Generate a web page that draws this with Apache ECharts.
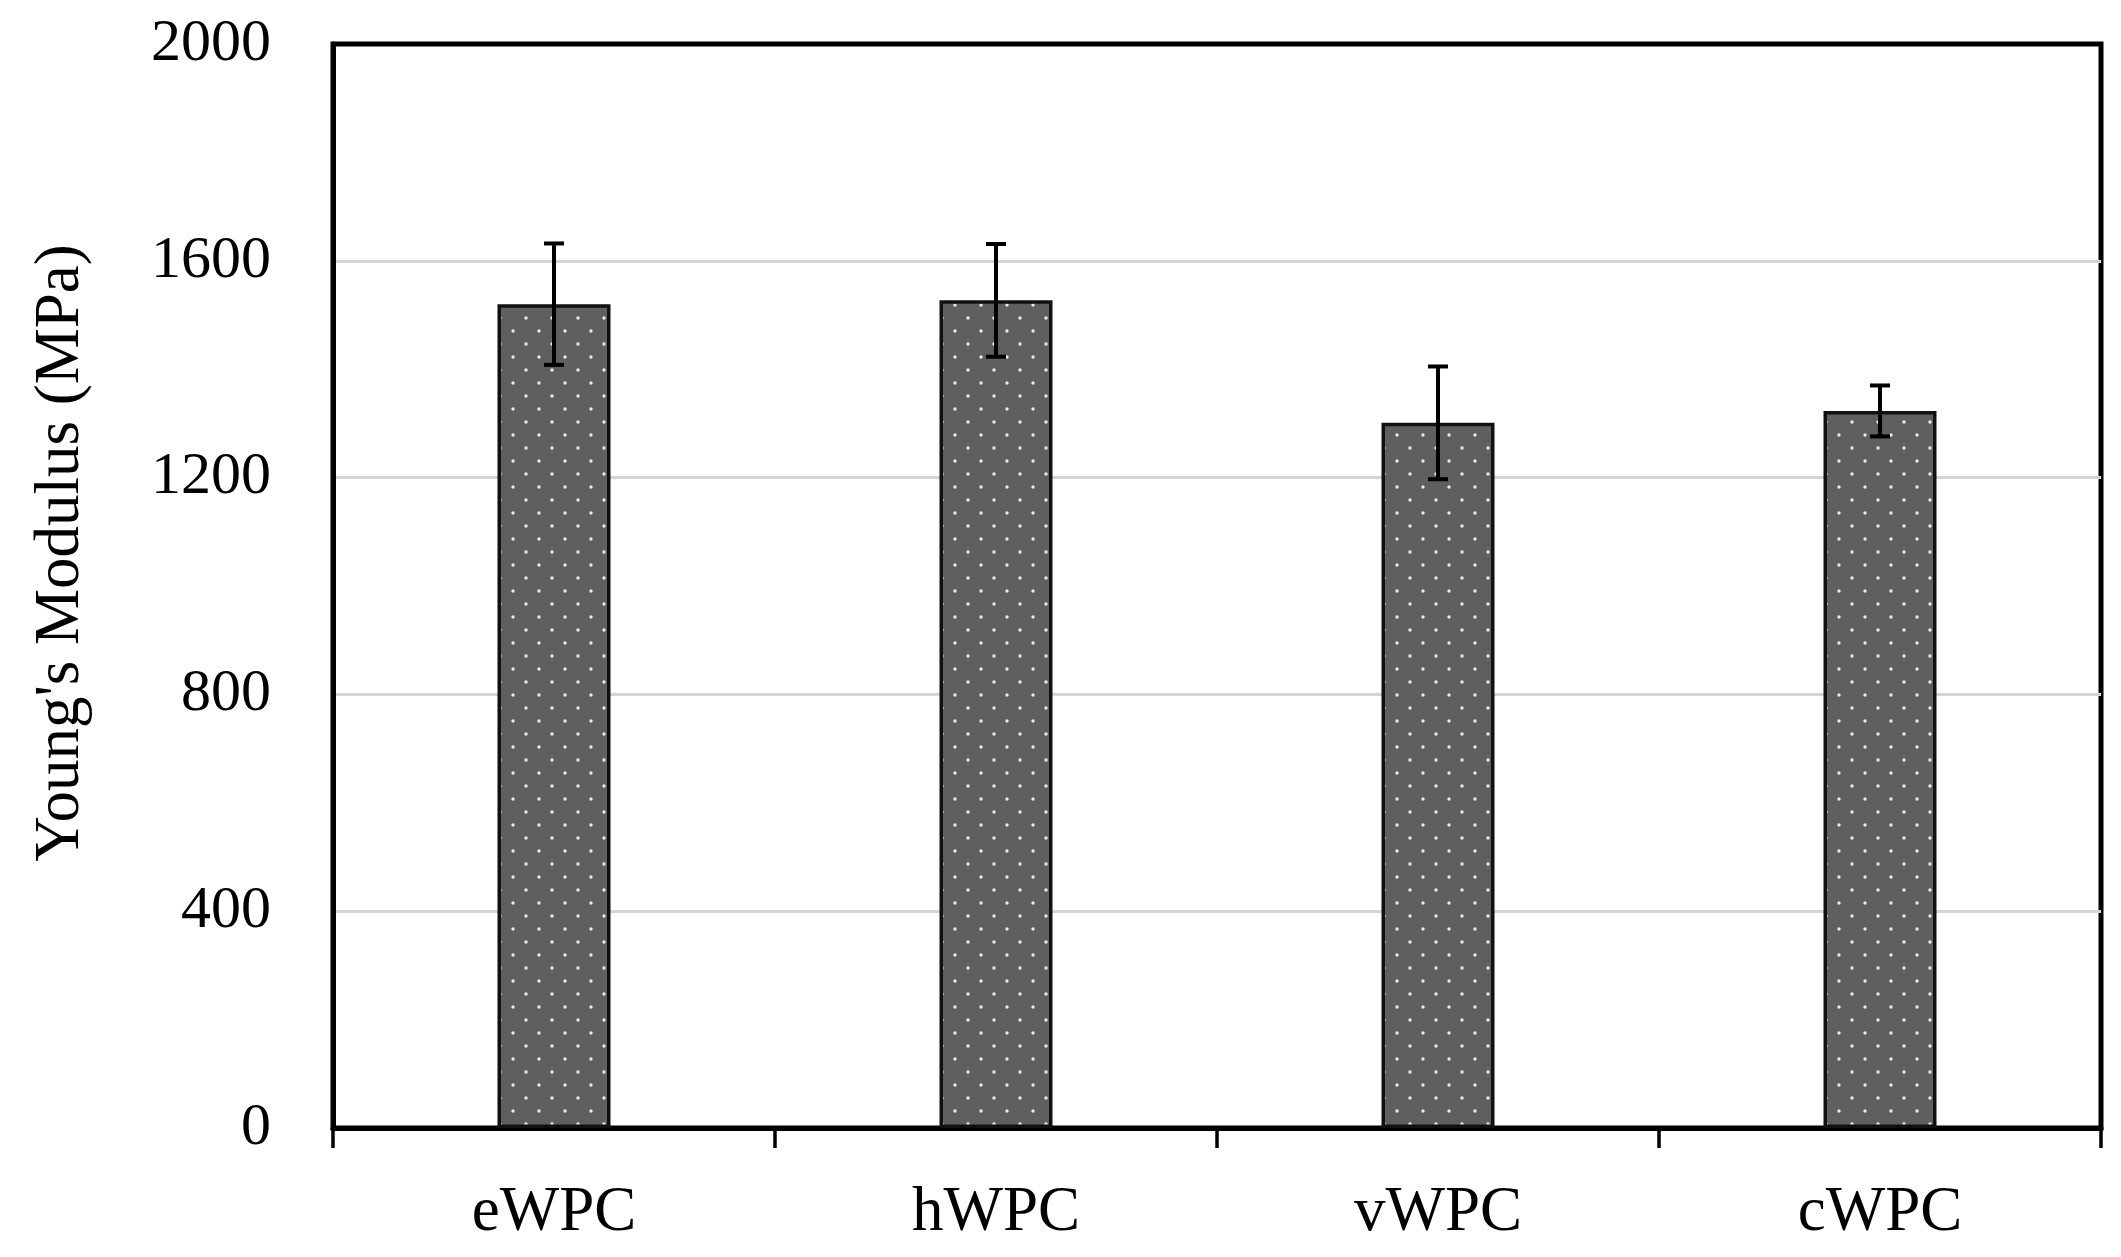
<!DOCTYPE html>
<html><head><meta charset="utf-8">
<script src="https://cdn.jsdelivr.net/npm/echarts@6/dist/echarts.min.js"></script>
<style>html,body{margin:0;padding:0;background:#fff}#c{width:2121px;height:1257px}</style>
</head><body><div id="c"></div>
<script>
const categories = ['eWPC', 'hWPC', 'vWPC', 'cWPC'];
const modulus = [1520, 1527, 1301, 1323];
const errors = [112, 104, 104, 47];
const yTicks = [0, 400, 800, 1200, 1600, 2000];

const pc = document.createElement('canvas');
pc.width = 26; pc.height = 26;
const g = pc.getContext('2d');
g.fillStyle = '#5f5f5f'; g.fillRect(0, 0, 26, 26);
g.fillStyle = '#ececec';
g.beginPath(); g.arc(6, 6, 1.7, 0, Math.PI * 2); g.fill();
g.beginPath(); g.arc(19, 19, 1.7, 0, Math.PI * 2); g.fill();

const font = '"Liberation Serif", "DejaVu Serif", serif';
const gridColors = yTicks.map(function (t, i) { return i === yTicks.length - 1 ? 'rgba(0,0,0,0)' : '#d4d4d4'; });
const chart = echarts.init(document.getElementById('c'));
chart.setOption({
  animation: false,
  grid: { left: 333, right: 20, top: 44, bottom: 129, show: true, borderColor: '#000', borderWidth: 5, backgroundColor: 'transparent' },
  xAxis: {
    type: 'category', data: categories,
    axisLine: { lineStyle: { color: '#000', width: 5 } },
    axisTick: { show: true, length: 20, lineStyle: { color: '#000', width: 3.5 } },
    axisLabel: { color: '#000', fontFamily: font, fontSize: 63, margin: 54 }
  },
  yAxis: {
    type: 'value', min: yTicks[0], max: yTicks[yTicks.length - 1], interval: 400,
    name: "Young's Modulus (MPa)", nameLocation: 'middle', nameGap: 240,
    nameTextStyle: { color: '#000', fontFamily: font, fontSize: 63, padding: [0, 0, 0, 66] },
    axisLine: { show: true, lineStyle: { color: '#000', width: 5 } },
    axisTick: { show: false },
    axisLabel: { color: '#000', fontFamily: font, fontSize: 60, margin: 62, formatter: function (v) { return String(v); } },
    splitLine: { show: true, lineStyle: { color: gridColors, width: 3 } }
  },
  series: [
    {
      type: 'bar', data: modulus, barWidth: 113,
      itemStyle: { color: { image: pc, repeat: 'repeat' }, borderColor: '#111', borderWidth: 3.5 },
      z: 2
    },
    {
      type: 'custom', z: 5,
      data: modulus.map((v, i) => [i, v, errors[i]]),
      renderItem: function (params, api) {
        const i = api.value(0), v = api.value(1), e = api.value(2);
        const hi = api.coord([i, v + e]);
        const lo = api.coord([i, v - e]);
        const w = 10;
        const st = { stroke: '#000', lineWidth: 4 };
        return {
          type: 'group', children: [
            { type: 'line', shape: { x1: hi[0], y1: hi[1], x2: lo[0], y2: lo[1] }, style: st },
            { type: 'line', shape: { x1: hi[0] - w, y1: hi[1], x2: hi[0] + w, y2: hi[1] }, style: st },
            { type: 'line', shape: { x1: lo[0] - w, y1: lo[1], x2: lo[0] + w, y2: lo[1] }, style: st }
          ]
        };
      }
    }
  ]
});
</script></body></html>
